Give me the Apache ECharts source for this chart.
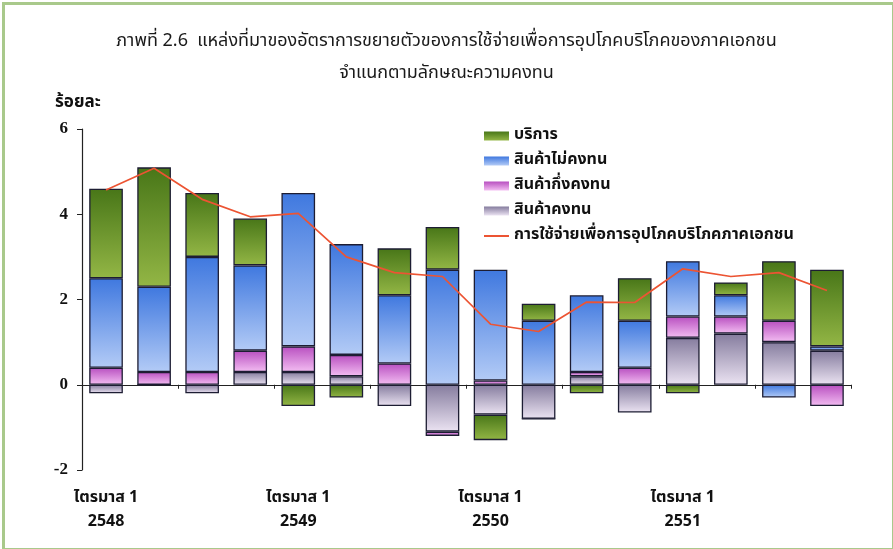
<!DOCTYPE html>
<html>
<head>
<meta charset="utf-8">
<script src="https://cdn.jsdelivr.net/npm/echarts@6/dist/echarts.min.js"></script>
<style>
  html, body { margin: 0; padding: 0; background: #fff; }
  #chart { width: 893px; height: 549px; }
</style>
</head>
<body>
<div id="chart"></div>
<script>
// Quarters Q1 2548 - Q4 2551
const quarters = [
  'ไตรมาส 1\n2548', 'ไตรมาส 2\n2548', 'ไตรมาส 3\n2548', 'ไตรมาส 4\n2548',
  'ไตรมาส 1\n2549', 'ไตรมาส 2\n2549', 'ไตรมาส 3\n2549', 'ไตรมาส 4\n2549',
  'ไตรมาส 1\n2550', 'ไตรมาส 2\n2550', 'ไตรมาส 3\n2550', 'ไตรมาส 4\n2550',
  'ไตรมาส 1\n2551', 'ไตรมาส 2\n2551', 'ไตรมาส 3\n2551', 'ไตรมาส 4\n2551'
];

// Contribution to growth (percentage points)
const durable    = [-0.2, 0.0, -0.2, 0.3, 0.3, 0.2, -0.5, -1.1, -0.7, -0.8, 0.2, -0.65, 1.1, 1.2, 1.0, 0.8];
const semiDurable = [0.4, 0.3, 0.3, 0.5, 0.6, 0.5, 0.5, -0.1, 0.1, 0.0, 0.1, 0.4, 0.5, 0.4, 0.5, -0.5];
const nonDurable = [2.1, 2.0, 2.7, 2.0, 3.6, 2.6, 1.6, 2.7, 2.6, 1.5, 1.8, 1.1, 1.3, 0.5, -0.3, 0.1];
const services   = [2.1, 2.8, 1.5, 1.1, -0.5, -0.3, 1.1, 1.0, -0.6, 0.4, -0.2, 1.0, -0.2, 0.3, 1.4, 1.8];

// Private consumption expenditure growth (%)
const consumption = [4.57, 5.08, 4.35, 3.94, 4.02, 3.0, 2.63, 2.54, 1.42, 1.25, 1.94, 1.93, 2.72, 2.54, 2.63, 2.21];

const yTicks = { min: -2, max: 6, step: 2 };

const names = {
  services: 'บริการ',
  nonDurable: 'สินค้าไม่คงทน',
  semiDurable: 'สินค้ากึ่งคงทน',
  durable: 'สินค้าคงทน',
  total: 'การใช้จ่ายเพื่อการอุปโภคบริโภคภาคเอกชน'
};

const thaiFont = "'Noto Sans Thai', 'Tahoma', 'DejaVu Sans', sans-serif";
const numFont = "'Liberation Serif', 'Times New Roman', serif";
const lineColor = '#ec5433';

function grad(top, bottom) {
  return new echarts.graphic.LinearGradient(0, 0, 0, 1, [
    { offset: 0, color: top },
    { offset: 1, color: bottom }
  ]);
}

function barSeries(name, data, top, bottom) {
  return {
    name: name,
    type: 'bar',
    stack: 'parts',
    barWidth: '70%',
    data: data,
    itemStyle: {
      color: grad(top, bottom),
      borderColor: '#1d1d33',
      borderWidth: 1.3
    },
    emphasis: { disabled: true }
  };
}

const chart = echarts.init(document.getElementById('chart'), null, { renderer: 'canvas' });

chart.setOption({
  animation: false,
  backgroundColor: '#ffffff',
  title: {
    text: 'ภาพที่ 2.6  แหล่งที่มาของอัตราการขยายตัวของการใช้จ่ายเพื่อการอุปโภคบริโภคของภาคเอกชน\nจำแนกตามลักษณะความคงทน',
    left: 'center',
    top: 21,
    textStyle: {
      fontFamily: thaiFont,
      fontSize: 18,
      fontWeight: 'normal',
      color: '#1a1a1a',
      lineHeight: 32,
      align: 'center'
    }
  },
  graphic: [
    {
      type: 'rect',
      left: 1, top: 1,
      shape: { width: 890, height: 546 },
      style: { fill: 'none', stroke: '#a9c98b', lineWidth: 3 },
      silent: true
    },
    {
      type: 'text',
      left: 55, top: 95,
      style: {
        text: 'ร้อยละ',
        font: 'bold 17px ' + thaiFont,
        fill: '#111'
      }
    }
  ],
  legend: {
    orient: 'vertical',
    left: 484,
    top: 127,
    padding: 0,
    itemWidth: 25,
    itemHeight: 9,
    itemGap: 7,
    data: [
      { name: names.services, icon: 'rect' },
      { name: names.nonDurable, icon: 'rect' },
      { name: names.semiDurable, icon: 'rect' },
      { name: names.durable, icon: 'rect' },
      { name: names.total, icon: 'path://M0,0 L25,0 L25,2 L0,2 Z' }
    ],
    itemStyle: { borderWidth: 0 },
    textStyle: {
      fontFamily: thaiFont,
      fontSize: 16,
      fontWeight: 'bold',
      color: '#111',
      lineHeight: 18
    }
  },
  grid: { left: 82, right: 42, top: 129, bottom: 79 },
  xAxis: [
    {
      type: 'category',
      data: quarters,
      position: 'bottom',
      axisLine: { onZero: true, lineStyle: { color: '#222', width: 1.2 } },
      axisTick: { show: true, interval: 1, length: 4, lineStyle: { color: '#222' } },
      axisLabel: { show: false },
      splitLine: { show: false }
    },
    {
      type: 'category',
      data: quarters,
      position: 'bottom',
      axisLine: { show: false },
      axisTick: { show: false },
      axisLabel: {
        interval: 3,
        margin: 17,
        fontFamily: thaiFont,
        fontSize: 16,
        fontWeight: 'bold',
        color: '#111',
        lineHeight: 24
      },
      splitLine: { show: false }
    }
  ],
  yAxis: {
    type: 'value',
    min: yTicks.min,
    max: yTicks.max,
    interval: yTicks.step,
    axisLine: { show: true, lineStyle: { color: '#222', width: 1.2 } },
    axisTick: { show: true, length: 5, lineStyle: { color: '#222' } },
    axisLabel: {
      margin: 14,
      fontFamily: numFont,
      fontSize: 17,
      fontWeight: 'bold',
      color: '#111'
    },
    splitLine: { show: false }
  },
  series: [
    barSeries(names.durable, durable, '#857c9e', '#ebe3f2'),
    barSeries(names.semiDurable, semiDurable, '#b84fc0', '#f3bdf2'),
    barSeries(names.nonDurable, nonDurable, '#3f78df', '#b3cbf6'),
    barSeries(names.services, services, '#487618', '#93b645'),
    {
      name: names.total,
      type: 'line',
      data: consumption,
      symbol: 'none',
      z: 5,
      lineStyle: { color: lineColor, width: 1.7 },
      itemStyle: { color: lineColor },
      emphasis: { disabled: true }
    }
  ]
});
</script>
</body>
</html>
